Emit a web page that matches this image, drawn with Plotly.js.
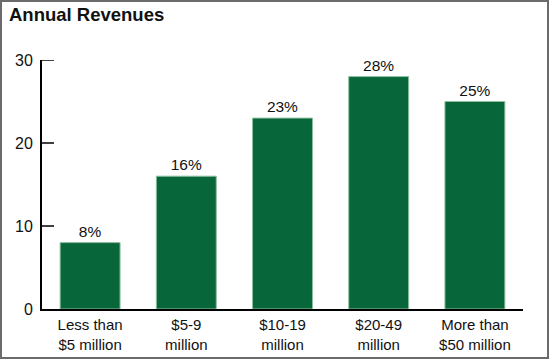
<!DOCTYPE html>
<html>
<head>
<meta charset="utf-8">
<script src="https://cdn.plot.ly/plotly-3.0.1.min.js"></script>
<style>
html,body{margin:0;padding:0;background:#fff;}
#wrap{position:relative;width:550px;height:361px;}
#chart{width:550px;height:361px;}
#frame{position:absolute;left:0;top:0;width:549px;height:359px;box-sizing:border-box;border:2px solid #6b6b6b;pointer-events:none;}
</style>
</head>
<body>
<div id="wrap"><div id="chart"></div><div id="frame"></div></div>
<script>
const categories = ["Less than<br>$5 million", "$5-9<br>million", "$10-19<br>million", "$20-49<br>million", "More than<br>$50 million"];
const values = [8, 16, 23, 28, 25];
const valueLabels = ["8%", "16%", "23%", "28%", "25%"];
const yTicks = [0, 10, 20, 30];

const FONT = '"Liberation Sans", Arial, Helvetica, sans-serif';

const trace = {
  type: 'bar',
  x: categories,
  y: values,
  text: valueLabels,
  textposition: 'outside',
  cliponaxis: false,
  textfont: {family: FONT, size: 15.5, color: '#111'},
  marker: {color: '#07673a', line: {color: '#8fbf9f', width: 1}},
  hoverinfo: 'none'
};

const tickShapes = yTicks.filter(v => v > 0).map(v => ({
  type: 'line', xref: 'paper', yref: 'y',
  x0: 0, x1: 12 / 481, y0: v, y1: v,
  line: {color: '#000', width: 1.5}
}));

const layout = {
  width: 550, height: 361,
  margin: {l: 42, r: 27, t: 60, b: 52, pad: 0},
  paper_bgcolor: '#fff', plot_bgcolor: '#fff',
  bargap: 0.377,
  showlegend: false,
  font: {family: FONT, size: 15, color: '#111'},
  title: {
    text: '<b>Annual Revenues</b>',
    x: 0, xref: 'container', xanchor: 'left', y: 1, yref: 'container', yanchor: 'top',
    pad: {l: 9, t: 8},
    font: {family: FONT, size: 18.5, color: '#111'}
  },
  shapes: tickShapes,
  xaxis: {
    type: 'category',
    range: [-0.5, 4.5],
    showline: true, linecolor: '#000', linewidth: 2,
    ticks: '', showgrid: false, zeroline: false,
    ticklabelstandoff: 1,
    tickfont: {family: FONT, size: 15, color: '#111'},
    fixedrange: true
  },
  yaxis: {
    range: [0, 30],
    tickvals: yTicks,
    ticktext: yTicks.map(String),
    showline: true, linecolor: '#000', linewidth: 2,
    ticks: '',
    showgrid: false, zeroline: false,
    ticklabelstandoff: 4,
    tickfont: {family: FONT, size: 16, color: '#111'},
    fixedrange: true
  }
};

Plotly.newPlot('chart', [trace], layout, {displayModeBar: false, staticPlot: true});
</script>
</body>
</html>
